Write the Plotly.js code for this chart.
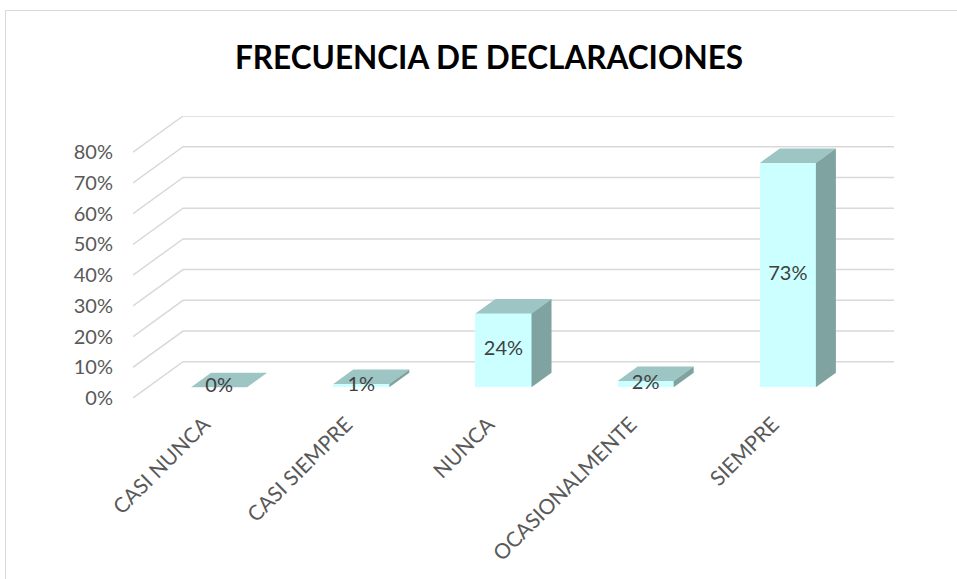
<!DOCTYPE html>
<html>
<head>
<meta charset="utf-8">
<script src="https://cdn.plot.ly/plotly-3.0.1.min.js"></script>
<style>
  html, body { margin: 0; padding: 0; background: #ffffff; }
  #chart { width: 957px; height: 579px; }
</style>
</head>
<body>
<div id="chart"></div>
<script>
// ---- data ----
const categories = ['CASI NUNCA', 'CASI SIEMPRE', 'NUNCA', 'OCASIONALMENTE', 'SIEMPRE'];
const values = [0, 1, 24, 2, 73];
const valueLabels = ['0%', '1%', '24%', '2%', '73%'];
const yTickValues = [0, 10, 20, 30, 40, 50, 60, 70, 80];
const yTickLabels = ['0%', '10%', '20%', '30%', '40%', '50%', '60%', '70%', '80%'];

// ---- pseudo-3D projection settings ----
const kx = 0.352;     // horizontal shift of the front plane (category units)
const ky = 11.8;      // vertical shift of the front plane (value units)
const barW = 0.394;   // bar width (category units)
const dFront = 0.3;   // bar front depth (0 = front, 1 = back wall)
const dBack = 0.7;    // bar back depth
const FONT = 'Lato, "Open Sans", sans-serif';

function proj(x, v, d) {
  return [x - (1 - d) * kx, v - (1 - d) * ky];
}

const traces = [];

// front faces: real bar trace
traces.push({
  type: 'bar',
  x: categories.map((c, i) => proj(i, 0, dFront)[0]),
  y: values,
  base: -(1 - dFront) * ky,
  width: barW,
  marker: { color: '#CCFFFF', line: { width: 0 } },
  hoverinfo: 'skip',
  showlegend: false
});

// top and side faces
values.forEach((v, i) => {
  const l = i - barW / 2, r = i + barW / 2;
  const a = proj(l, v, dFront), b = proj(r, v, dFront), c = proj(r, v, dBack), d = proj(l, v, dBack);
  traces.push({
    type: 'scatter', mode: 'lines', fill: 'toself',
    x: [a[0], b[0], c[0], d[0], a[0]], y: [a[1], b[1], c[1], d[1], a[1]],
    fillcolor: '#9CC5C3', line: { width: 0, color: '#9CC5C3' },
    hoverinfo: 'skip', showlegend: false
  });
  const e = proj(r, 0, dFront), f = proj(r, 0, dBack);
  if (v > 0) {
    traces.push({
      type: 'scatter', mode: 'lines', fill: 'toself',
      x: [b[0], c[0], f[0], e[0], b[0]], y: [b[1], c[1], f[1], e[1], b[1]],
      fillcolor: '#7FA3A1', line: { width: 0, color: '#7FA3A1' },
      hoverinfo: 'skip', showlegend: false
    });
  }
});

// data labels centred on the front faces
traces.push({
  type: 'scatter', mode: 'text',
  x: categories.map((c, i) => proj(i, 0, dFront)[0]),
  y: values.map(v => proj(0, v / 2, dFront)[1]),
  text: valueLabels,
  textposition: 'middle center',
  textfont: { family: FONT, size: 20, color: '#404040' },
  hoverinfo: 'skip', showlegend: false
});

// gridlines on side and back wall
const shapes = yTickValues.map(v => ({
  type: 'path', xref: 'x', yref: 'y', layer: 'below',
  path: 'M ' + (-0.5 - kx) + ',' + (v - ky) + ' L -0.5,' + v + ' L ' + (categories.length - 0.5) + ',' + v,
  line: { color: '#D9D9D9', width: 1.5 }
}));
// chart border
shapes.push({
  type: 'rect', xref: 'paper', yref: 'paper',
  x0: (5.5 - 133) / 761, x1: 1.2, y0: -1, y1: (398 - 10.5) / 282,
  line: { color: '#D9D9D9', width: 1 }, layer: 'below'
});

const layout = {
  width: 957, height: 579,
  margin: { l: 133, r: 63, t: 116, b: 181 },
  paper_bgcolor: '#ffffff', plot_bgcolor: 'rgba(0,0,0,0)',
  showlegend: false,
  title: {
    text: '<b>FRECUENCIA DE DECLARACIONES</b>',
    font: { family: FONT, size: 31.5, color: '#000000' },
    x: 489 / 957, xanchor: 'center', xref: 'container',
    y: 1 - 58 / 579, yanchor: 'middle', yref: 'container'
  },
  xaxis: {
    range: [-0.5 - kx, categories.length - 0.5],
    tickvals: categories.map((c, i) => i - kx),
    ticktext: categories,
    tickangle: -45,
    ticks: '', showgrid: false, zeroline: false, showline: false,
    ticklabelstandoff: 9,
    tickfont: { family: FONT, size: 21, color: '#595959' },
    fixedrange: true
  },
  yaxis: {
    range: [-ky, 80],
    tickvals: yTickValues.map(v => v - ky),
    ticktext: yTickLabels,
    ticks: '', showgrid: false, zeroline: false, showline: false,
    ticklabelstandoff: 19,
    tickfont: { family: FONT, size: 20, color: '#595959' },
    fixedrange: true
  },
  bargap: 0,
  shapes: shapes
};

Plotly.newPlot('chart', traces, layout, { staticPlot: true, displayModeBar: false });
</script>
</body>
</html>
